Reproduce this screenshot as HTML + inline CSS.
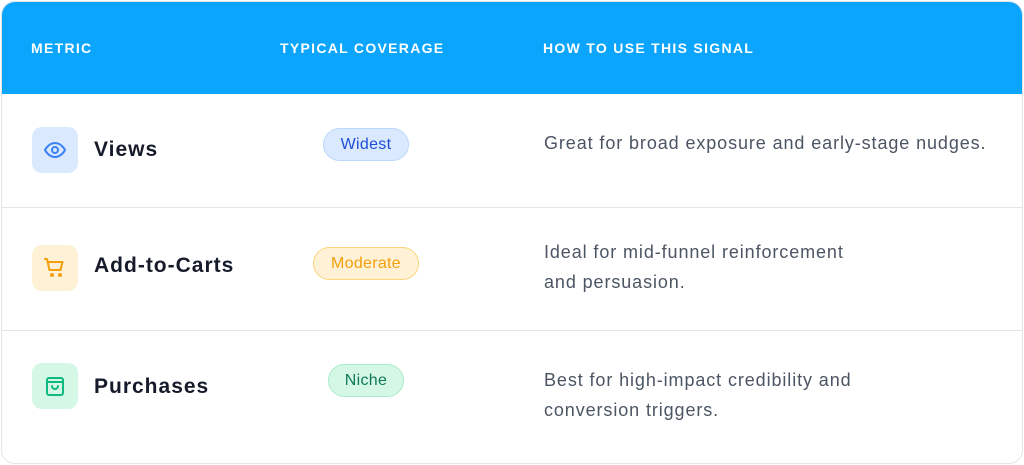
<!DOCTYPE html>
<html><head><style>
*{margin:0;padding:0;box-sizing:border-box}
body{width:1024px;height:465px;background:#fff;font-family:"Liberation Sans",sans-serif;position:relative;overflow:hidden}
.card{position:absolute;left:1px;top:1px;width:1022px;height:463px;border:1px solid #e3e5ea;border-radius:14px;overflow:hidden}
.hdr{position:absolute;left:0;top:0;width:100%;height:92px;background:#0ba5fd}
.h{position:absolute;top:38px;color:#fff;font-weight:bold;font-size:14px;letter-spacing:1.3px}
.line{position:absolute;left:0;width:100%;height:1px;background:#e3e5ea}
.ic{position:absolute;left:30px;width:46px;height:46px;border-radius:10px}
.ic svg{position:absolute;left:11px;top:11px}
.nm{position:absolute;left:92px;font-weight:bold;font-size:21px;letter-spacing:1px;color:#161b2b}
.pill{position:absolute;height:33px;border-radius:17px;font-size:16px;letter-spacing:0.3px;text-align:center;line-height:31px;border:1px solid}
.d{position:absolute;left:542px;font-size:18px;letter-spacing:0.9px;color:#4b5563;line-height:30px}
</style></head><body>
<div class="card">
<div class="hdr"></div>
<div class="h" style="left:29px">METRIC</div>
<div class="h" style="left:278px">TYPICAL COVERAGE</div>
<div class="h" style="left:541px">HOW TO USE THIS SIGNAL</div>

<div class="ic" style="top:125px;background:#dbe9fe"><svg width="24" height="24" viewBox="0 0 24 24" fill="none" stroke="#3b82f6" stroke-width="2"><path d="M2 12s3.5-7 10-7 10 7 10 7-3.5 7-10 7S2 12 2 12z"/><circle cx="12" cy="12" r="3"/></svg></div>
<div class="nm" style="top:136px">Views</div>
<div class="pill" style="left:321px;top:126px;width:86px;background:#dbe9fe;border-color:#bcd6fb;color:#1d4ed8">Widest</div>
<div class="d" style="top:126px">Great for broad exposure and early-stage nudges.</div>
<div class="line" style="top:205px"></div>

<div class="ic" style="top:243px;background:#fef1d6"><svg width="24" height="24" viewBox="0 0 24 24" fill="none" stroke="#f59e0b" stroke-width="2" stroke-linecap="round" stroke-linejoin="round"><path d="M2 3h2l2.5 11h11l2-8H5.5"/><circle cx="9" cy="19" r="1"/><circle cx="17" cy="19" r="1"/></svg></div>
<div class="nm" style="top:252px">Add-to-Carts</div>
<div class="pill" style="left:311px;top:245px;width:106px;background:#fef1d6;border-color:#fcd37a;color:#f59e0b">Moderate</div>
<div class="d" style="top:235px">Ideal for mid-funnel reinforcement<br>and persuasion.</div>
<div class="line" style="top:328px"></div>

<div class="ic" style="top:361px;background:#d4f7e6"><svg width="24" height="24" viewBox="0 0 24 24" fill="none" stroke="#10b981" stroke-width="2" stroke-linecap="round" stroke-linejoin="round"><rect x="4" y="4" width="16" height="17" rx="2"/><path d="M4 8h16"/><path d="M9 12a3 3 0 0 0 6 0"/></svg></div>
<div class="nm" style="top:373px">Purchases</div>
<div class="pill" style="left:326px;top:362px;width:76px;background:#d4f7e6;border-color:#a7ecca;color:#0f7a55">Niche</div>
<div class="d" style="top:363px">Best for high-impact credibility and<br>conversion triggers.</div>
</div>
</body></html>
